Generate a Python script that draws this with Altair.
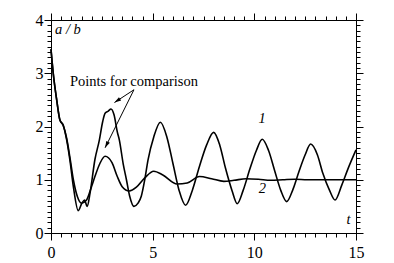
import math
import altair as alt
import pandas as pd

# ---- data ----
t1 = [0, 0.11, 0.28, 0.44, 0.6, 0.77, 0.93, 1.1, 1.34, 1.52, 1.65, 1.78, 1.92, 2.16, 2.38, 2.54, 2.66, 2.82, 2.95,
      3.1, 3.26, 3.36, 3.55, 3.71, 3.87, 4.08, 4.28, 4.44, 4.61, 4.77, 5.05, 5.38, 5.7, 6.0, 6.3, 6.62, 6.95, 7.3,
      7.65, 8.0, 8.3, 8.58, 8.9, 9.16, 9.45, 9.78, 10.1, 10.39, 10.7, 11.0, 11.3, 11.59, 11.9, 12.2, 12.5, 12.77,
      13.1, 13.37, 13.7, 13.97, 14.3, 14.6, 15.0]
v1 = [3.45, 3.0, 2.5, 2.12, 2.03, 1.75, 1.37, 0.87, 0.42, 0.56, 0.62, 0.5, 0.75, 1.38, 1.75, 2.09, 2.25, 2.29, 2.33,
      2.22, 1.9, 1.75, 1.3, 1.0, 0.69, 0.5, 0.56, 0.69, 1.0, 1.37, 1.8, 2.08, 1.8, 1.3, 0.8, 0.52, 0.8, 1.25,
      1.65, 1.89, 1.65, 1.22, 0.8, 0.55, 0.8, 1.2, 1.55, 1.76, 1.55, 1.17, 0.8, 0.59, 0.82, 1.16, 1.47, 1.67,
      1.47, 1.12, 0.8, 0.62, 0.9, 1.2, 1.56]

t2 = [0, 0.11, 0.28, 0.44, 0.6, 0.77, 0.93, 1.1, 1.3, 1.5, 1.75, 2.0, 2.16, 2.41, 2.66, 3.0, 3.25, 3.5, 3.85,
      4.2, 4.6, 5.05, 5.5, 6.2, 6.7, 7.3, 7.9, 8.5, 9.0, 9.6, 10.2, 10.8, 11.4, 12.0, 12.6, 13.2, 13.8, 14.4, 15.0]
v2 = [3.45, 3.0, 2.5, 2.12, 2.02, 1.78, 1.42, 1.0, 0.68, 0.56, 0.62, 0.88, 1.06, 1.31, 1.44, 1.32, 1.07, 0.87, 0.79,
      0.86, 1.03, 1.16, 1.09, 0.92, 0.94, 1.06, 1.02, 0.97, 0.99, 1.02, 1.01, 0.99, 1.0, 1.01, 1.0, 1.0, 1.0, 1.0, 1.0]

x_major = [0, 5, 10, 15]
y_major = [0, 1, 2, 3, 4]
x_minor = [i * 0.5 for i in range(31)]
y_minor = [round(i * 0.1, 1) for i in range(41)]

# annotation arrows (data coordinates)
arrow_t0 = [4.08, 4.08]
arrow_v0 = [2.69, 2.69]
arrow_t1 = [3.12, 2.66]
arrow_v1 = [2.45, 1.60]

caption = ["Points for comparison"]
caption_t = [0.93]
caption_v = [2.76]

ital_left = ["a / b"]
ital_left_t = [0.2]
ital_left_v = [3.74]

ital_center = ["1", "2", "t"]
ital_center_t = [10.38, 10.4, 14.63]
ital_center_v = [2.07, 0.76, 0.16]

# ---- chart ----
W, H = 305, 213
XDOM, YDOM = [0, 15], [0, 4]
FONT = "Liberation Serif, Times New Roman, Times, serif"

xs = alt.Scale(domain=XDOM, nice=False, zero=False)
ys = alt.Scale(domain=YDOM, nice=False, zero=False)


def ax(orient, values, size, labels, domain=True):
    pad = 4 if orient == "bottom" else 1
    return alt.Axis(orient=orient, values=values, tickSize=size, labels=labels, domain=domain,
                    grid=False, ticks=True, tickColor="black", domainColor="black",
                    tickWidth=1, domainWidth=1, labelFont=FONT, labelFontSize=16,
                    labelColor="black", labelPadding=pad, labelFlush=False, labelOverlap=False)


# pixel-space angle for arrowheads
px_t = W / (XDOM[1] - XDOM[0])
px_v = H / (YDOM[1] - YDOM[0])
angles = []
for a0, b0, a1, b1 in zip(arrow_t0, arrow_v0, arrow_t1, arrow_v1):
    dx = (a1 - a0) * px_t
    dy = -(b1 - b0) * px_v
    ang = math.degrees(math.atan2(dx, -dy)) % 360
    angles.append(ang)

df1 = pd.DataFrame({"t": t1, "v": v1})
df2 = pd.DataFrame({"t": t2, "v": v2})
arr = pd.DataFrame({"t0": arrow_t0, "v0": arrow_v0, "t1": arrow_t1, "v1": arrow_v1, "ang": angles})
cap = pd.DataFrame({"label": caption, "t": caption_t, "v": caption_v})
il = pd.DataFrame({"label": ital_left, "t": ital_left_t, "v": ital_left_v})
ic = pd.DataFrame({"label": ital_center, "t": ital_center_t, "v": ital_center_v})

line1 = alt.Chart(df1).mark_line(color="black", strokeWidth=1.6, interpolate="monotone").encode(
    x=alt.X("t:Q", scale=xs, title=None, axis=ax("bottom", x_major, 7, True)),
    y=alt.Y("v:Q", scale=ys, title=None, axis=ax("left", y_major, 7, True)),
)
line2 = alt.Chart(df2).mark_line(color="black", strokeWidth=1.6, interpolate="monotone").encode(
    x=alt.X("t:Q", scale=xs, title=None, axis=ax("bottom", x_minor, 4, False, False)),
    y=alt.Y("v:Q", scale=ys, title=None, axis=ax("left", y_minor, 4, False, False)),
)
rules = alt.Chart(arr).mark_rule(color="black", strokeWidth=1).encode(
    x=alt.X("t0:Q", scale=xs, title=None, axis=ax("top", x_major, 7, False)),
    y=alt.Y("v0:Q", scale=ys, title=None, axis=ax("right", y_major, 7, False)),
    x2="t1:Q",
    y2="v1:Q",
)
heads = alt.Chart(arr).mark_point(shape="M0,0 L-0.3,1 L0.3,1 Z", filled=True, color="black",
                                  opacity=1, size=180).encode(
    x=alt.X("t1:Q", scale=xs, title=None, axis=ax("top", x_minor, 4, False, False)),
    y=alt.Y("v1:Q", scale=ys, title=None, axis=ax("right", y_minor, 4, False, False)),
    angle=alt.Angle("ang:Q", scale=None),
)
cap_text = alt.Chart(cap).mark_text(font=FONT, fontSize=14.5, color="black", align="left",
                                    baseline="alphabetic").encode(
    x=alt.X("t:Q", scale=xs, axis=None), y=alt.Y("v:Q", scale=ys, axis=None), text="label:N")
il_text = alt.Chart(il).mark_text(font=FONT, fontSize=14.5, fontStyle="italic", color="black",
                                  align="left", baseline="alphabetic").encode(
    x=alt.X("t:Q", scale=xs, axis=None), y=alt.Y("v:Q", scale=ys, axis=None), text="label:N")
ic_text = alt.Chart(ic).mark_text(font=FONT, fontSize=14.5, fontStyle="italic", color="black",
                                  align="center", baseline="alphabetic").encode(
    x=alt.X("t:Q", scale=xs, axis=None), y=alt.Y("v:Q", scale=ys, axis=None), text="label:N")

chart = alt.layer(line1, line2, rules, heads, cap_text, il_text, ic_text).resolve_axis(
    x="independent", y="independent"
).properties(
    width=W, height=H,
    autosize=alt.AutoSizeParams(type="none"),
    padding={"left": 43, "top": 12, "right": 30, "bottom": 28},
    background="white",
).configure_view(stroke=None)

chart.save("out.html", embed_options={"renderer": "svg", "actions": False})
